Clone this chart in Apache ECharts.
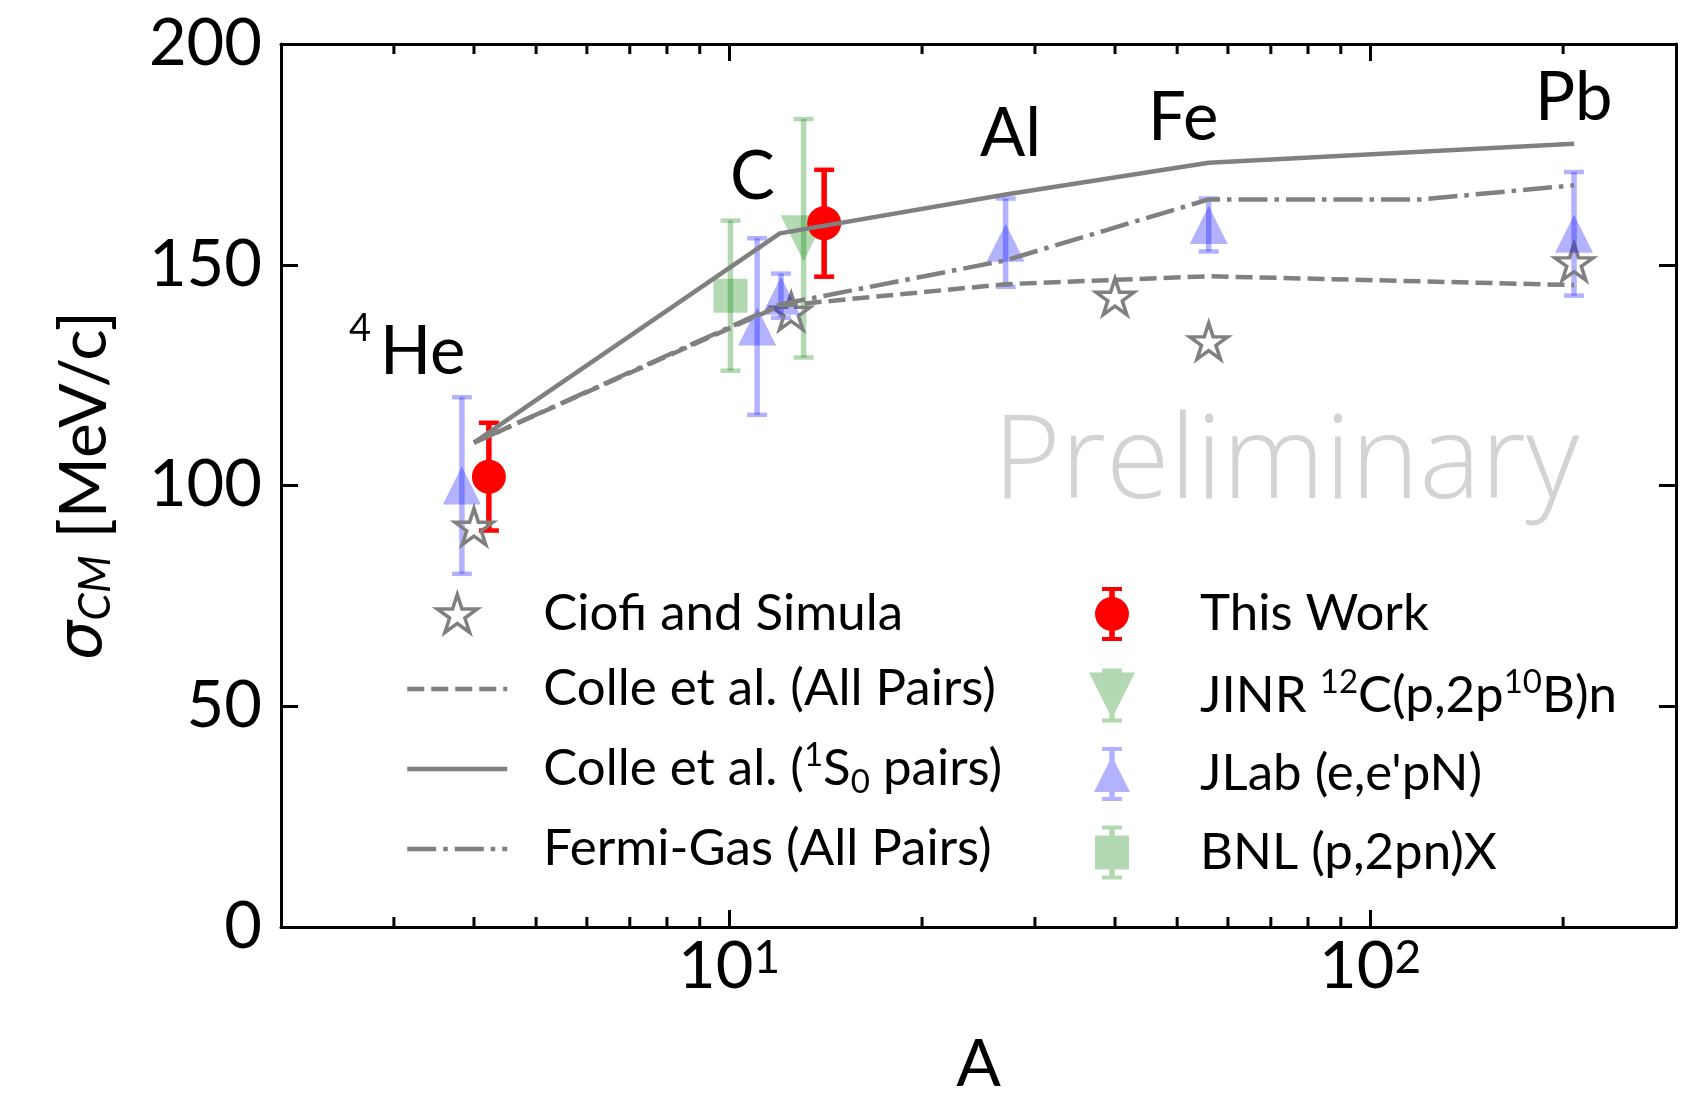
<!DOCTYPE html>
<html>
<head>
<meta charset="utf-8">
<script src="https://cdn.jsdelivr.net/npm/echarts@6/dist/echarts.min.js"></script>
<style>
  html, body { margin: 0; padding: 0; background: #fff; }
  #chart { width: 1705px; height: 1093px; }
</style>
</head>
<body>
<div id="chart"></div>
<script>
const FONT = 'Lato, "Noto Sans", sans-serif';
const GRAY = '#808080';
const BLUE = 'rgba(0, 0, 255, 0.3)';
const GREEN = 'rgba(0, 128, 0, 0.3)';
const RED = '#ff0000';

// axes
const xRange = [2, 300];
const yTicks = [0, 50, 100, 150, 200];
const minorTicksA = [3, 4, 5, 6, 7, 8, 9, 20, 30, 40, 50, 60, 70, 80, 90, 200];

// This Work
const workA = [4.22, 14.07];
const workSigma = [102, 159.4];
const workErr = [12.2, 12.1];

// JLab (e,e'pN)
const jlabA = [3.83, 11.06, 12.05, 27, 56, 208];
const jlabSigma = [100, 136, 143, 155, 159, 157];
const jlabErr = [20, 20, 5, 10, 6, 14];

// JINR 12C(p,2p10B)n
const jinrA = [13.07];
const jinrSigma = [156];
const jinrErr = [27];

// BNL (p,2pn)X
const bnlA = [10.05];
const bnlSigma = [143];
const bnlErr = [17];

// Ciofi and Simula
const ciofiA = [4, 12.5, 40, 56, 208];
const ciofiSigma = [90.7, 139.4, 142.8, 132.7, 150.6];

// model curves
const colleAllA = [4, 12, 27, 56, 208];
const colleAll = [109.7, 140.7, 145.6, 147.4, 145.4];
const colle1S0A = [4, 12, 27, 56, 208];
const colle1S0 = [109.7, 157.1, 165.9, 173.1, 177.4];
const fermiA = [4, 12, 27, 56, 120, 208];
const fermi = [109.7, 141, 151, 164.8, 164.8, 168];

const zip = (xs, ys) => xs.map((x, i) => [x, ys[i]]);
const withErr = (xs, ys, es) => xs.map((x, i) => [x, ys[i] - es[i], ys[i] + es[i]]);

// hollow 5 point star like matplotlib '*'
function starPath() {
  const pts = [];
  for (let i = 0; i < 10; i++) {
    const r = i % 2 === 0 ? 1 : 0.381966;
    const a = Math.PI / 2 + i * Math.PI / 5;
    pts.push((r * Math.cos(a) * 50).toFixed(3) + ',' + (-r * Math.sin(a) * 50).toFixed(3));
  }
  return 'path://M' + pts.join(' L') + ' Z';
}
const STAR = starPath();

// legend icons: error bar (54 tall) + marker
function barPath(cx) {
  return `M${cx - 10},0 H${cx + 10} V4 H${cx - 10} Z M${cx - 2.75},4 H${cx + 2.75} V50 H${cx - 2.75} Z M${cx - 10},50 H${cx + 10} V54 H${cx - 10} Z`;
}
const cx = 23;
const iconWork = 'path://' + barPath(cx) + ` M${cx - 17},27 A17,17 0 1,1 ${cx + 17},27 A17,17 0 1,1 ${cx - 17},27 Z`;
const iconJinr = 'path://' + barPath(cx) + ` M${cx - 23},4 L${cx + 23},4 L${cx},50 Z`;
const iconJlab = 'path://' + barPath(cx) + ` M${cx},9 L${cx + 18},45 L${cx - 18},45 Z`;
const iconBnl = 'path://' + barPath(cx) + ` M${cx - 17},10 H${cx + 17} V44 H${cx - 17} Z`;

function errorBars(color) {
  return function (params, api) {
    const x = api.value(0);
    const top = api.coord([x, api.value(2)]);
    const bot = api.coord([x, api.value(1)]);
    const cap = 10;
    return {
      type: 'group',
      children: [
        { type: 'line', shape: { x1: top[0], y1: top[1], x2: bot[0], y2: bot[1] }, style: { stroke: color, lineWidth: 5.5 } },
        { type: 'line', shape: { x1: top[0] - cap, y1: top[1], x2: top[0] + cap, y2: top[1] }, style: { stroke: color, lineWidth: 4.5 } },
        { type: 'line', shape: { x1: bot[0] - cap, y1: bot[1], x2: bot[0] + cap, y2: bot[1] }, style: { stroke: color, lineWidth: 4.5 } }
      ]
    };
  };
}

const N_CIOFI = 'Ciofi and Simula';
const N_ALL = 'Colle et al. (All Pairs)';
const N_1S0 = 'Colle et al. (1S0 pairs)';
const N_FERMI = 'Fermi-Gas (All Pairs)';
const N_WORK = 'This Work';
const N_JINR = 'JINR 12C(p,2p10B)n';
const N_JLAB = "JLab (e,e'pN)";
const N_BNL = 'BNL (p,2pn)X';

const DASHED = [17, 7];
const DASHDOT = [29, 7, 4.5, 7];

const legendText = {
  [N_CIOFI]: '{g| }{t|Ciofi and Simula}',
  [N_ALL]: '{g| }{t|Colle et al. (All Pairs)}',
  [N_1S0]: '{g| }{t|Colle et al. (}{sup|1}{t|S}{sub|0}{t| pairs)}',
  [N_FERMI]: '{g| }{t|Fermi-Gas (All Pairs)}',
  [N_WORK]: '{g| }{t|This Work}',
  [N_JINR]: '{g| }{t|JINR }{sup|12}{t|C(p,2p}{sup|10}{t|B)n}',
  [N_JLAB]: "{g| }{t|JLab (e,e'pN)}",
  [N_BNL]: '{g| }{t|BNL (p,2pn)X}'
};

function legendRich(gap) {
  return {
    g: { width: gap, fontSize: 10, lineHeight: 10 },
    t: { fontFamily: FONT, fontSize: 51, lineHeight: 60, color: '#000' },
    sup: { fontFamily: FONT, fontSize: 33, lineHeight: 33, verticalAlign: 'top', color: '#000' },
    sub: { fontFamily: FONT, fontSize: 33, lineHeight: 33, verticalAlign: 'bottom', color: '#000' }
  };
}

// legend entry for a model curve: line only, no symbol
const noSymbol = { color: 'transparent', borderWidth: 0, opacity: 0 };
function lineItem(name, type) {
  return { name: name, itemStyle: noSymbol, lineStyle: { color: GRAY, width: 4.5, type: type } };
}

function label(text, x, y, size) {
  return {
    type: 'text', x: x, y: y,
    style: { text: text, fontFamily: FONT, fontSize: size, fill: '#000', textAlign: 'left', align: 'left', textVerticalAlign: 'middle', verticalAlign: 'middle' }
  };
}

const chart = echarts.init(document.getElementById('chart'));

const axisLineStyle = { show: true, onZero: false, lineStyle: { color: '#000', width: 3 } };
const tickStyle = { show: true, inside: true, length: 17, lineStyle: { color: '#000', width: 3 } };

const option = {
  animation: false,
  backgroundColor: '#fff',
  grid: { left: 281, right: 29, top: 44, bottom: 166, containLabel: false, outerBoundsMode: 'none' },
  xAxis: [
    {
      type: 'log', logBase: 10, min: xRange[0], max: xRange[1], position: 'bottom',
      name: 'A', nameLocation: 'middle', nameGap: 105,
      nameTextStyle: { fontFamily: FONT, fontSize: 66, lineHeight: 66, color: '#000' },
      axisLine: axisLineStyle, axisTick: tickStyle,
      axisLabel: {
        margin: 8,
        formatter: function (v) {
          const e = Math.log10(v);
          if (Math.abs(e - Math.round(e)) > 1e-6) return '';
          return '{b|10}{s|' + Math.round(e) + '}';
        },
        rich: {
          b: { fontFamily: FONT, fontSize: 65, lineHeight: 65, color: '#000' },
          s: { fontFamily: FONT, fontSize: 46, lineHeight: 36, verticalAlign: 'top', color: '#000' }
        }
      },
      splitLine: { show: false }
    },
    {
      type: 'log', logBase: 10, min: xRange[0], max: xRange[1], position: 'top',
      axisLine: axisLineStyle, axisTick: tickStyle,
      axisLabel: { show: false }, splitLine: { show: false }
    }
  ],
  yAxis: [
    {
      type: 'value', min: yTicks[0], max: yTicks[yTicks.length - 1], interval: 50, position: 'left',
      name: '{s|σ}{c|CM}{t| [MeV/c]}', nameLocation: 'middle', nameRotate: 90, nameGap: 163,
      nameTextStyle: {
        rich: {
          s: { fontFamily: 'DejaVu Sans', fontStyle: 'italic', fontSize: 62, lineHeight: 66, color: '#000' },
          c: { fontFamily: FONT, fontStyle: 'italic', fontSize: 44, lineHeight: 48, verticalAlign: 'bottom', color: '#000' },
          t: { fontFamily: FONT, fontSize: 66, lineHeight: 66, color: '#000' }
        }
      },
      axisLine: axisLineStyle, axisTick: tickStyle,
      axisLabel: { margin: 19, fontFamily: FONT, fontSize: 65, color: '#000' },
      splitLine: { show: false }
    },
    {
      type: 'value', min: yTicks[0], max: yTicks[yTicks.length - 1], interval: 50, position: 'right',
      axisLine: axisLineStyle, axisTick: tickStyle,
      axisLabel: { show: false }, splitLine: { show: false }
    }
  ],
  legend: [
    {
      orient: 'vertical', left: 405, top: 588, padding: 0,
      itemWidth: 100, itemHeight: 38, itemGap: 24.5, selectedMode: false,
      lineStyle: { width: 4.5 },
      data: [
        { name: N_CIOFI, icon: STAR, itemStyle: { color: 'none', borderColor: GRAY, borderWidth: 3.5 } },
        lineItem(N_ALL, DASHED),
        lineItem(N_1S0, 'solid'),
        lineItem(N_FERMI, DASHDOT)
      ],
      formatter: name => legendText[name],
      textStyle: { rich: legendRich(31) }
    },
    {
      orient: 'vertical', left: 1089, top: 587, padding: 0,
      itemWidth: 46, itemHeight: 54, itemGap: 24.5, selectedMode: false,
      data: [
        { name: N_WORK, icon: iconWork, itemStyle: { color: RED, borderWidth: 0 } },
        { name: N_JINR, icon: iconJinr, itemStyle: { color: GREEN, borderWidth: 0 } },
        { name: N_JLAB, icon: iconJlab, itemStyle: { color: BLUE, borderWidth: 0 } },
        { name: N_BNL, icon: iconBnl, itemStyle: { color: GREEN, borderWidth: 0 } }
      ],
      formatter: name => legendText[name],
      textStyle: { rich: legendRich(60) }
    }
  ],
  graphic: [
    {
      type: 'text', x: 993, y: 465, z: 0,
      style: { text: 'Preliminary', fontFamily: '"Open Sans", Lato, sans-serif', fontWeight: 300, fontSize: 116, fill: '#d3d3d3', textAlign: 'left', align: 'left', textVerticalAlign: 'middle', verticalAlign: 'middle' }
    },
    label('4', 349, 329, 38),
    label('He', 380, 352, 67),
    label('C', 730, 177, 67),
    label('Al', 980, 134, 67),
    label('Fe', 1148, 118, 67),
    label('Pb', 1535, 98, 67)
  ],
  series: [
    {
      name: N_ALL, type: 'line', data: zip(colleAllA, colleAll), symbol: 'none',
      lineStyle: { color: GRAY, width: 4.5, type: DASHED }, itemStyle: { color: GRAY }
    },
    {
      name: N_1S0, type: 'line', data: zip(colle1S0A, colle1S0), symbol: 'none',
      lineStyle: { color: GRAY, width: 4.5, type: 'solid' }, itemStyle: { color: GRAY }
    },
    {
      name: N_FERMI, type: 'line', data: zip(fermiA, fermi), symbol: 'none',
      lineStyle: { color: GRAY, width: 4.5, type: DASHDOT }, itemStyle: { color: GRAY }
    },
    {
      name: N_CIOFI, type: 'scatter', data: zip(ciofiA, ciofiSigma),
      symbol: STAR, symbolSize: [38, 36],
      itemStyle: { color: 'none', borderColor: GRAY, borderWidth: 3.5, opacity: 1 }
    },
    {
      name: N_JLAB, type: 'custom', data: withErr(jlabA, jlabSigma, jlabErr),
      encode: { x: 0, y: [1, 2] }, renderItem: errorBars(BLUE)
    },
    {
      name: N_JLAB, type: 'scatter', data: zip(jlabA, jlabSigma),
      symbol: 'triangle', symbolSize: 38, itemStyle: { color: BLUE, opacity: 1 }
    },
    {
      name: N_BNL, type: 'custom', data: withErr(bnlA, bnlSigma, bnlErr),
      encode: { x: 0, y: [1, 2] }, renderItem: errorBars(GREEN)
    },
    {
      name: N_BNL, type: 'scatter', data: zip(bnlA, bnlSigma),
      symbol: 'rect', symbolSize: 34, itemStyle: { color: GREEN, opacity: 1 }
    },
    {
      name: N_JINR, type: 'custom', data: withErr(jinrA, jinrSigma, jinrErr),
      encode: { x: 0, y: [1, 2] }, renderItem: errorBars(GREEN)
    },
    {
      name: N_JINR, type: 'scatter', data: zip(jinrA, jinrSigma),
      symbol: 'triangle', symbolRotate: 180, symbolSize: 46, itemStyle: { color: GREEN, opacity: 1 }
    },
    {
      name: N_WORK, type: 'custom', data: withErr(workA, workSigma, workErr),
      encode: { x: 0, y: [1, 2] }, renderItem: errorBars(RED)
    },
    {
      name: N_WORK, type: 'scatter', data: zip(workA, workSigma),
      symbol: 'circle', symbolSize: 34, itemStyle: { color: RED, opacity: 1 }
    },
    // minor log ticks, pointing inward at bottom and top
    {
      name: 'minor-bottom', type: 'scatter', silent: true, clip: false,
      data: minorTicksA.map(a => [a, yTicks[0]]),
      symbol: 'rect', symbolSize: [3, 10], symbolOffset: [0, -5],
      itemStyle: { color: '#000', opacity: 1 }
    },
    {
      name: 'minor-top', type: 'scatter', silent: true, clip: false,
      data: minorTicksA.map(a => [a, yTicks[yTicks.length - 1]]),
      symbol: 'rect', symbolSize: [3, 10], symbolOffset: [0, 5],
      itemStyle: { color: '#000', opacity: 1 }
    }
  ]
};

chart.setOption(option);
</script>
</body>
</html>
